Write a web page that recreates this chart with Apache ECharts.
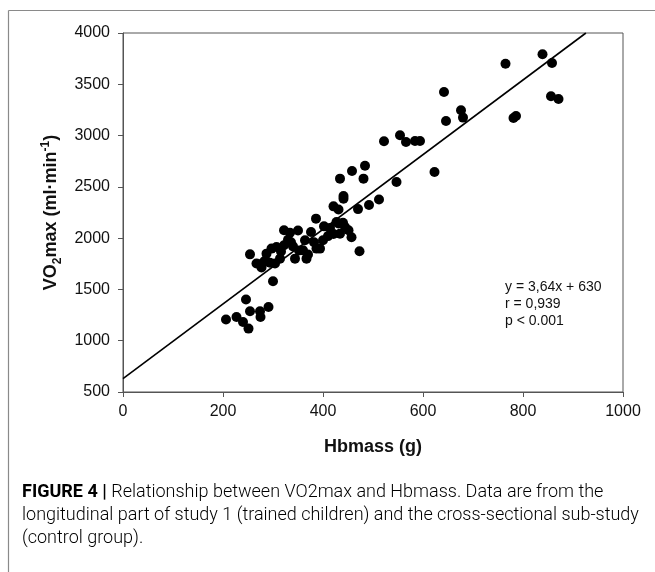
<!DOCTYPE html>
<html>
<head>
<meta charset="utf-8">
<script src="https://cdn.jsdelivr.net/npm/echarts@6/dist/echarts.min.js"></script>
<style>
html,body{margin:0;padding:0;background:#fff;}
#c{width:655px;height:572px;}
</style>
</head>
<body>
<div id="c"></div>
<script>
var hbmass = [206,227,240,251,246,254,275,274,291,300,254,267,277,284,287,297,294,304,307,314,322,322,330,334,336,344,350,352,360,364,367,370,376,382,386,387,394,400,402,410,421,427,431,444,451,457,473,421,431,441,441,434,458,481,484,470,492,512,547,522,554,566,584,594,623,642,646,676,680,765,781,786,839,858,856,871,434,414,280,316,340,440];
var vo2max = [1206,1231,1182,1118,1401,1287,1231,1287,1329,1580,1842,1752,1713,1780,1849,1898,1760,1752,1913,1800,1930,2077,1985,2053,1960,1800,2075,1880,1881,1979,1800,1840,2060,1960,2190,1898,1898,1979,2115,2020,2040,2157,2142,2109,2077,2008,1872,2310,2280,2410,2385,2580,2655,2580,2706,2283,2323,2376,2547,2944,3003,2937,2947,2947,2645,3425,3142,3246,3175,3701,3171,3191,3792,3708,3383,3357,2044,2100,1760,1870,1920,2150];
var slope = 3.64, intercept = 630;
var xTicks = [0,200,400,600,800,1000];
var yTicks = [500,1000,1500,2000,2500,3000,3500,4000];
var statsLines = ['y = 3,64x + 630', 'r = 0,939', 'p < 0.001'];
var captionLines = [
  ['FIGURE 4 | ', 'Relationship between VO2max and Hbmass. Data are from the'],
  ['', 'longitudinal part of study 1 (trained children) and the cross-sectional sub-study'],
  ['', '(control group).']
];

var points = hbmass.map(function(h,i){return [h, vo2max[i]];});
var xEnd = (4000 - intercept)/slope;
var fitLine = [[0, intercept],[xEnd, 4000]];
var AR = '"Liberation Sans", Arial, sans-serif';

var chart = echarts.init(document.getElementById('c'));
var graphics = [
  {type:'line', shape:{x1:8.5,y1:10.5,x2:655,y2:10.5}, style:{stroke:'#8a8a8a', lineWidth:1.2}, silent:true},
  {type:'line', shape:{x1:8.5,y1:10.5,x2:8.5,y2:572}, style:{stroke:'#8a8a8a', lineWidth:1.2}, silent:true}
];
statsLines.forEach(function(t,i){
  graphics.push({type:'text', left:505, top:280+i*17, style:{text:t, fill:'#111', font:'14px ' + AR}});
});
captionLines.forEach(function(l,i){
  graphics.push({type:'text', left:22, top:483+i*23, style:{
    text:(l[0]?'{b|'+l[0]+'}':'')+'{n|'+l[1]+'}',
    rich:{
      b:{fontFamily:'Roboto, sans-serif', fontWeight:'bold', fontSize:18, color:'#222'},
      n:{fontFamily:'Roboto, sans-serif', fontWeight:300, fontSize:18, color:'#333'}
    }
  }});
});

chart.setOption({
  animation:false,
  grid:{left:123, right:32, top:33, bottom:180, show:true, borderColor:'#555', borderWidth:1},
  xAxis:{
    type:'value', min:0, max:1000, interval:200,
    axisLine:{show:true, onZero:false, lineStyle:{color:'#555', width:1}},
    axisTick:{show:true, inside:false, length:5, lineStyle:{color:'#555'}},
    axisLabel:{color:'#111', fontSize:16, fontFamily:AR, margin:12, formatter:function(v){return String(v);}},
    splitLine:{show:false},
    name:'Hbmass (g)', nameLocation:'middle', nameGap:46,
    nameTextStyle:{color:'#111', fontSize:18, fontWeight:'bold', fontFamily:AR}
  },
  yAxis:{
    type:'value', min:500, max:4000, interval:500,
    axisLine:{show:true, onZero:false, lineStyle:{color:'#555', width:1}},
    axisTick:{show:true, inside:false, length:5, lineStyle:{color:'#555'}},
    axisLabel:{color:'#111', fontSize:16, fontFamily:AR, margin:13, formatter:function(v){return String(v);}},
    splitLine:{show:false},
    name:'{b|VO}{s|2}{b|max (ml·min}{p|-1}{b|)}', nameLocation:'middle', nameGap:52, nameRotate:90,
    nameTextStyle:{
      color:'#111', fontSize:18, fontWeight:'bold', fontFamily:AR,
      rich:{
        b:{fontSize:18, fontWeight:'bold', color:'#111', fontFamily:AR, lineHeight:24, verticalAlign:'middle'},
        s:{fontSize:12, fontWeight:'bold', color:'#111', fontFamily:AR, lineHeight:24, verticalAlign:'bottom'},
        p:{fontSize:12, fontWeight:'bold', color:'#111', fontFamily:AR, lineHeight:24, verticalAlign:'top'}
      }
    }
  },
  series:[
    {type:'line', data:fitLine, symbol:'none', lineStyle:{color:'#000', width:1.6}, silent:true, z:2},
    {type:'scatter', data:points, symbol:'circle', symbolSize:10, itemStyle:{color:'#000', opacity:1}, z:3}
  ],
  graphic:graphics
});
</script>
</body>
</html>
